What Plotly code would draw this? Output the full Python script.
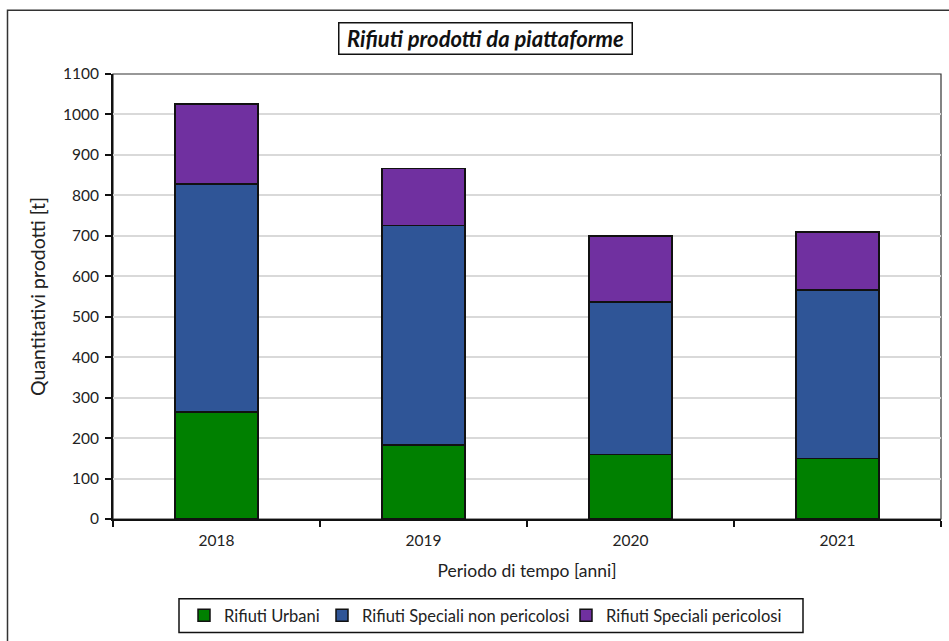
import plotly.graph_objects as go

years = ["2018", "2019", "2020", "2021"]
urbani = [265, 183, 160, 150]
speciali_non_pericolosi = [563, 543, 376, 416]
speciali_pericolosi = [198, 140, 164, 143]

series_names = ["Rifiuti Urbani", "Rifiuti Speciali non pericolosi", "Rifiuti Speciali pericolosi"]
series_colors = ["#008000", "#2F5597", "#7030A0"]
y_ticks = list(range(0, 1101, 100))

FONT = "Lato"
TXT = "#222222"

# plot area in page pixels
PL, PR, PT, PB = 113, 941, 74, 521
W, H = 949, 641


def px(x):
    return (x - PL) / (PR - PL)


def py(y):
    return (PB - y) / (PB - PT)


legend_ids = ["legend", "legend2", "legend3"]
legend_left = [184, 322, 566]

fig = go.Figure()
for name, vals, col, lid in zip(series_names, [urbani, speciali_non_pericolosi, speciali_pericolosi],
                                series_colors, legend_ids):
    fig.add_trace(go.Bar(
        x=years, y=vals, name=name, legend=lid,
        marker=dict(color=col, line=dict(color="#111111", width=1.5)),
        width=0.4,
    ))

legend_common = dict(
    orientation="h", yanchor="middle", y=py(618), xanchor="left",
    bgcolor="rgba(0,0,0,0)", borderwidth=0,
    font=dict(family=FONT, size=16.5, color=TXT), itemwidth=30,
)

fig.update_layout(
    barmode="stack",
    width=W, height=H,
    margin=dict(l=PL, r=W - PR, t=PT, b=H - PB),
    paper_bgcolor="white", plot_bgcolor="white",
    font=dict(family=FONT, size=15.5, color=TXT),
    showlegend=True,
    legend=dict(x=px(legend_left[0]), **legend_common),
    legend2=dict(x=px(legend_left[1]), **legend_common),
    legend3=dict(x=px(legend_left[2]), **legend_common),
)

fig.update_xaxes(
    showline=True, linecolor="#111111", linewidth=2,
    ticks="outside", ticklen=6, tickwidth=2, tickcolor="#111111",
    tickson="boundaries", ticklabelstandoff=6,
    tickfont=dict(size=15.5, color=TXT),
    title=dict(text="Periodo di tempo [anni]", font=dict(size=17.5, color=TXT), standoff=17),
    showgrid=False,
)
fig.update_yaxes(
    range=[0, 1100], tickvals=y_ticks,
    showline=True, linecolor="#111111", linewidth=2,
    ticks="outside", ticklen=6, tickwidth=2, tickcolor="#111111",
    ticklabelstandoff=3,
    tickfont=dict(size=15.5, color=TXT),
    gridcolor="#D9D9D9", gridwidth=1.5,
    title=dict(text="Quantitativi prodotti [t]", font=dict(size=19.5, color=TXT), standoff=12),
    zeroline=False,
)

# plot area frame (top/right)
fig.add_shape(type="rect", xref="paper", yref="paper", x0=0, x1=1, y0=0, y1=1,
              line=dict(color="#333333", width=1.2), layer="below")
# outer chart border
fig.add_shape(type="rect", xref="paper", yref="paper",
              x0=px(7.5), x1=px(960), y0=py(660), y1=py(10),
              line=dict(color="#333333", width=1.5))
# legend box
fig.add_shape(type="rect", xref="paper", yref="paper",
              x0=px(179), x1=px(803), y0=py(635), y1=py(601),
              line=dict(color="#111111", width=1.5))

# title box
fig.add_annotation(
    text="<b><i>Rifiuti prodotti da piattaforme</i></b>",
    xref="paper", yref="paper",
    x=px(485), y=py(38), xanchor="center", yanchor="middle",
    showarrow=False, font=dict(family=FONT, size=22, color="#111111"),
    bordercolor="#111111", borderwidth=1.5, borderpad=3, bgcolor="white",
    width=286, height=24,
)

fig.write_html(
    "out.html",
    config={"displayModeBar": False},
    post_script="document.body.style.margin='0px';document.body.style.overflow='hidden';",
)
